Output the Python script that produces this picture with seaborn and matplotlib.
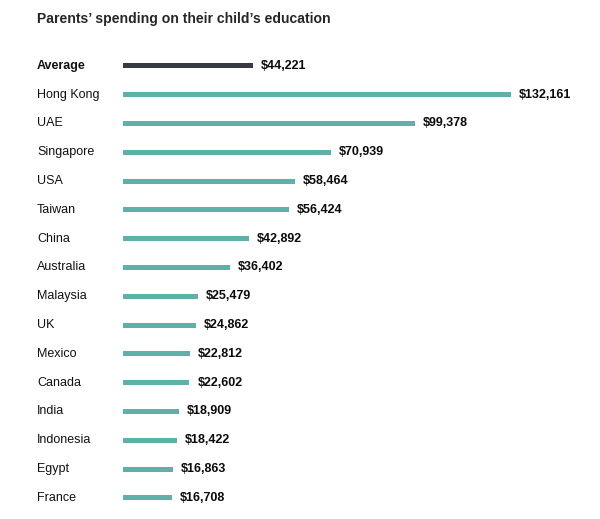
import matplotlib
matplotlib.use("Agg")
import matplotlib.pyplot as plt
import matplotlib.transforms as mtransforms
import seaborn as sns
import pandas as pd

countries = ["Average", "Hong Kong", "UAE", "Singapore", "USA", "Taiwan", "China",
             "Australia", "Malaysia", "UK", "Mexico", "Canada", "India",
             "Indonesia", "Egypt", "France"]
spending = [44221, 132161, 99378, 70939, 58464, 56424, 42892, 36402, 25479,
            24862, 22812, 22602, 18909, 18422, 16863, 16708]
value_labels = ["$44,221", "$132,161", "$99,378", "$70,939", "$58,464", "$56,424",
                "$42,892", "$36,402", "$25,479", "$24,862", "$22,812", "$22,602",
                "$18,909", "$18,422", "$16,863", "$16,708"]
title = "Parents\u2019 spending on their child\u2019s education"

df = pd.DataFrame({"country": countries, "spending": spending})

sns.set_theme(style="white")
plt.rcParams["font.family"] = ["Liberation Sans", "DejaVu Sans"]

W, H = 600, 519
fig = plt.figure(figsize=(W / 100, H / 100), dpi=100)
x0_px, x1_px = 123, 600
top_px, bot_px = 51.5, 512.3
ax = fig.add_axes([x0_px / W, 1 - bot_px / H, (x1_px - x0_px) / W, (bot_px - top_px) / H])

teal = "#5eb0a8"
dark = "#383943"
palette = {c: (dark if c == "Average" else teal) for c in countries}

sns.barplot(data=df, y="country", x="spending", hue="country", palette=palette,
            order=countries, orient="h", width=0.17, legend=False, ax=ax,
            saturation=1, linewidth=0)

xmax = 132161 * (x1_px - x0_px) / 388.0
ax.set_xlim(0, xmax)
ax.set_ylim(len(countries) - 0.5, -0.5)
ax.set_axis_off()

lab_trans = mtransforms.blended_transform_factory(fig.transFigure, ax.transData)
off = mtransforms.offset_copy(ax.transData, fig=fig, x=8, y=0, units="dots")
for i, (c, v, vl) in enumerate(zip(countries, spending, value_labels)):
    ax.text(37 / W, i, c, transform=lab_trans, ha="left", va="center",
            fontsize=9, color="#111111", fontweight="bold" if c == "Average" else "normal")
    ax.text(v, i, vl, transform=off, ha="left", va="center", fontsize=9,
            fontweight="bold", color="#0a0a0a")

fig.text(37 / W, 1 - 18.5 / H, title, ha="left", va="center", fontsize=10.1,
         fontweight="bold", color="#262626")

fig.savefig("out.png", dpi=100, facecolor="white")
